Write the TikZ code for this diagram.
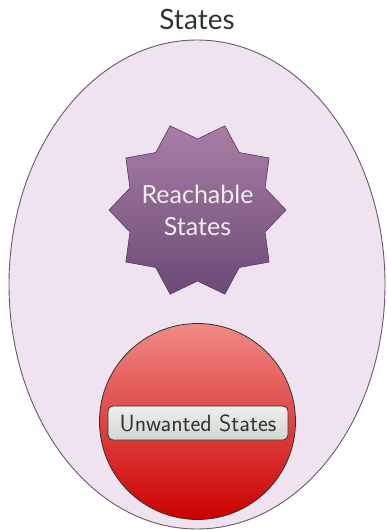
\documentclass[tikz,border=0pt]{standalone}
\usepackage{fontspec}
\setmainfont{Lato}
\usetikzlibrary{shapes.geometric}
\definecolor{plum}{HTML}{75507B}
\definecolor{plumdark}{HTML}{5C3566}
\definecolor{ellfill}{HTML}{EEE3EE}
\definecolor{startop}{HTML}{A87EA6}
\definecolor{starbot}{HTML}{6C4A76}
\definecolor{redtop}{HTML}{F08A86}
\definecolor{redbot}{HTML}{CC0000}
\definecolor{darkgray}{HTML}{2E3436}
\definecolor{alutop}{HTML}{EEEEEC}
\definecolor{alubot}{HTML}{D3D7CF}
\tikzset{
  universe/.style={ellipse, draw=plum, fill=ellfill, line width=0.9pt, inner sep=0pt},
  reach/.style={star, star points=10, star point ratio=1.246, shape border rotate=18,
     draw=plumdark, line width=0.6pt, top color=startop, bottom color=starbot,
     inner sep=0pt, outer sep=0pt},
  reachtext/.style={text=alutop, align=center, inner sep=0pt, font=\fontsize{25}{32}\selectfont},
  badset/.style={circle, draw=darkgray, line width=0.8pt, top color=redtop, bottom color=redbot, inner sep=0pt},
  badlabel/.style={rectangle, rounded corners=5pt, draw=darkgray, line width=0.8pt,
     top color=alutop, bottom color=alubot, text=darkgray, inner sep=0pt,
     minimum width=180pt, minimum height=34pt, font=\sffamily\fontsize{23.5}{26}\selectfont},
  title/.style={text=darkgray, font=\fontsize{28}{32}\selectfont, inner sep=0pt}
}
\begin{document}
\begin{tikzpicture}[x=1pt,y=-1pt]
\useasboundingbox (0,0) rectangle (386,530);
\node[universe, minimum width=376pt, minimum height=489pt] (U) at (197,284.5) {};
\node[title, anchor=base] (T) at (197,29) {States};
\node[reach, minimum size=177pt] (R) at (197.5,210) {};
\node[reachtext] (RT) at (R.center) {Reachable\\States};
\node[badset, minimum size=196pt] (B) at (197.5,421.5) {};
\node[badlabel] (L) at (198,423) {Unwanted States};
\end{tikzpicture}
\end{document}
